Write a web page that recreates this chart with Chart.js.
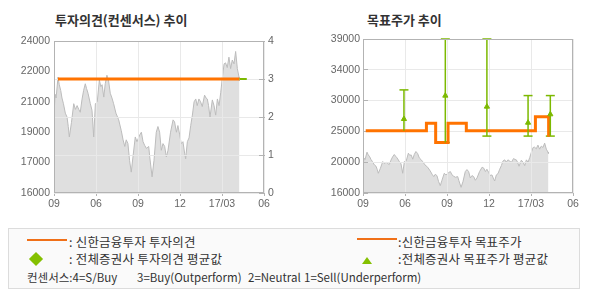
<!DOCTYPE html>
<html>
<head>
<meta charset="utf-8">
<script src="https://cdn.jsdelivr.net/npm/chart.js@4.4.0/dist/chart.umd.min.js"></script>
<style>
  body { margin: 0; width: 590px; height: 300px; background: #fff; position: relative; overflow: hidden; }
  .box { position: absolute; top: 0; width: 295px; height: 220px; }
  .title { position: absolute; top: 11px; font: bold 13px "Noto Sans CJK KR", sans-serif; color: #333; line-height: 18px; white-space: nowrap; }
  .legend { position: absolute; left: 8px; top: 228px; width: 570px; height: 59px; border: 1px solid #dcdcdc; background: #fafafa; }
  .lg { position: absolute; font: 12.5px "Noto Sans CJK KR", sans-serif; color: #333; line-height: 16px; white-space: pre; letter-spacing: 0.2px; }
  .lg.small { font-size: 11.5px; letter-spacing: 0; }
  .ln { position: absolute; height: 2px; width: 40px; background: #f07018; }
  .dia { position: absolute; width: 10px; height: 10px; background: #84c000; transform: rotate(45deg); }
  .tri { position: absolute; width: 0; height: 0; border-left: 5px solid transparent; border-right: 5px solid transparent; border-bottom: 7px solid #84c000; }
</style>
</head>
<body>
<div class="title" style="left:55px">투자의견(컨센서스) 추이</div>
<div class="title" style="left:367px">목표주가 추이</div>
<div class="box" style="left:0"><canvas id="opinionChart"></canvas></div>
<div class="box" style="left:295px"><canvas id="targetChart"></canvas></div>

<div class="legend">
  <div class="ln" style="left:18px; top:10px"></div>
  <div class="lg" style="left:60px; top:5px">: 신한금융투자 투자의견</div>
  <div class="ln" style="left:348px; top:9px"></div>
  <div class="lg" style="left:389px; top:5px">:신한금융투자 목표주가</div>
  <div class="dia" style="left:22px; top:25px"></div>
  <div class="lg" style="left:60px; top:22px">: 전체증권사 투자의견 평균값</div>
  <div class="tri" style="left:353px; top:28px"></div>
  <div class="lg" style="left:389px; top:22px">:전체증권사 목표주가 평균값</div>
  <div class="lg small" style="left:18px; top:40px">컨센서스:4=S/Buy</div>
  <div class="lg small" style="left:128px; top:40px">3=Buy(Outperform)</div>
  <div class="lg small" style="left:239px; top:40px">2=Neutral</div>
  <div class="lg small" style="left:295px; top:40px">1=Sell(Underperform)</div>
</div>

<script>
// x axis (0..100 across the plot), labels under the grid lines
const xTicks = [0, 20, 40, 60, 80, 100];
const xLabels = ['09', '06', '09', '12', '17/03', '06'];

// share price (same series in both charts)
const priceX = [0, 0.5, 1.0, 1.9, 2.5, 3.2, 3.8, 4.5, 5.4, 6.2, 6.8, 7.3, 8.3, 9.4, 10.2, 11.0, 11.8, 12.5, 13.3, 14.1,
  14.9, 15.5, 16.2, 17.3, 18.1, 18.9, 19.7, 20.6, 21.6, 22.3, 22.9, 23.7, 24.4, 25.2, 26.0, 26.8, 27.6, 28.4, 29.5, 30.8,
  32.0, 32.9, 33.7, 34.4, 35.2, 36.0, 36.8, 37.6, 38.7, 39.5, 40.8, 41.6, 42.4, 43.2, 44.0, 45.1, 45.6, 46.7, 47.6, 48.7,
  49.5, 50.3, 51.1, 51.9, 52.7, 53.5, 54.3, 55.5, 56.7, 57.4, 58.3, 59.0, 59.8, 60.6, 61.4, 62.2, 62.7, 63.5, 64.3, 65.1,
  65.9, 66.7, 67.5, 68.2, 69.0, 69.8, 70.6, 71.7, 72.4, 73.0, 73.6, 74.3, 75.4, 76.2, 77.0, 77.8, 78.6, 79.4, 80.2, 81.0,
  81.7, 82.5, 83.3, 84.1, 84.9, 85.7, 86.5, 87.3, 88.1, 88.3];
const priceY = [20100, 21200, 21000, 22100, 21700, 21400, 21000, 20700, 20200, 20000, 19500, 18950, 19700, 20700, 20400, 20600, 20400, 20250, 20900, 21400,
  21750, 21500, 21250, 20700, 20350, 18950, 20700, 20800, 21950, 21600, 21700, 21050, 21750, 22200, 21900, 21250, 21000, 20700, 20200, 19850,
  19300, 18800, 18450, 18800, 18600, 17700, 17100, 17900, 18950, 18700, 19050, 19200, 18700, 18500, 18350, 18450, 17900, 16850, 17700, 19200,
  19500, 19200, 18250, 18600, 18450, 17900, 18250, 19200, 19850, 19750, 19200, 19550, 19100, 18600, 18700, 18100, 17800, 18700, 18900, 19550,
  20100, 20800, 20950, 20600, 20950, 20800, 20550, 21150, 21000, 20950, 20600, 20000, 20900, 20600, 20100, 20950, 20600, 21300, 22100, 22800,
  22850, 22600, 23150, 22550, 23000, 22800, 23450, 22550, 22100, 21900];

// investment opinion (right axis 0..4)
const opinionX = [1.9, 88.3];
const opinionY = [3, 3];
const avgOpinionX = [88.3, 91.8];
const avgOpinionY = [3, 3];
const opinionTicks = [0, 1, 2, 3, 4];

// left chart price axis
const leftPriceTicks = [16000, 17600, 19200, 20800, 22400, 24000];
const leftPriceLabels = ['16000', '17000', '19000', '21000', '22000', '24000'];

// target price (stepped)
const targetX = [1.3, 30.2, 34.6, 40.5, 49.2, 82.1, 88.4];
const targetY = [25300, 26400, 23550, 26400, 25300, 27400, 24400];

// all brokers' target price range and average
const rangeX = [19.5, 39.2, 59.0, 78.6, 89.2];
const rangeHigh = [31400, 39000, 39000, 30550, 30550];
const rangeLow = [25300, 23550, 24500, 24500, 24500];
const rangeAvg = [27050, 30540, 28900, 26500, 27750];

// right chart axis
const rightTicks = [16000, 20600, 25200, 29800, 34400, 39000];
const rightLabels = ['16000', '20000', '25000', '30000', '34000', '39000'];

const ORANGE = '#ff7300';
const GREEN = '#7cb900';
const GRID = '#e9e9e9';
const AXIS = '#b3b3b3';
const tickFont = { family: "'Liberation Sans', Arial, sans-serif", size: 10.5 };

const pts = (xs, ys) => xs.map((x, i) => ({ x: x, y: ys[i] }));

// grid lines are drawn again over the price area, then a frame around the plot
const framePlugin = {
    id: 'frame',
    afterDatasetDraw(chart, args) {
        if (args.index !== 0) return;
        Object.values(chart.scales).forEach(s => s.drawGrid(chart.chartArea));
    },
    afterDraw(chart) {
        const a = chart.chartArea;
        const ctx = chart.ctx;
        ctx.save();
        ctx.strokeStyle = AXIS;
        ctx.lineWidth = 1;
        ctx.strokeRect(Math.round(a.left) + 0.5, Math.round(a.top) + 0.5, Math.round(a.right - a.left) - 1, Math.round(a.bottom - a.top) - 1);
        ctx.restore();
    }
};

function xScale() {
    return {
        type: 'linear', min: 0, max: 100,
        afterBuildTicks: s => { s.ticks = xTicks.map(v => ({ value: v })); },
        afterFit: s => { s.height = 27; },
        ticks: { callback: (v, i) => xLabels[i], font: tickFont, color: '#666', padding: 2, maxRotation: 0, autoSkip: false },
        grid: { color: GRID, tickColor: AXIS, tickLength: 3 },
        border: { color: AXIS }
    };
}

function priceDataset(yAxisID) {
    return {
        type: 'line',
        data: pts(priceX, priceY),
        yAxisID: yAxisID,
        borderColor: '#bcbcbc',
        borderWidth: 1,
        backgroundColor: '#dfdfdf',
        fill: 'start',
        pointRadius: 0,
        tension: 0,
        order: 5
    };
}

new Chart(document.getElementById('opinionChart'), {
    type: 'line',
    data: {
        datasets: [
            priceDataset('y'),
            {
                data: pts(opinionX, opinionY),
                yAxisID: 'y1',
                borderColor: ORANGE,
                borderWidth: 3,
                pointRadius: 0,
                order: 1
            },
            {
                data: pts(avgOpinionX, avgOpinionY),
                yAxisID: 'y1',
                borderColor: GREEN,
                borderWidth: 2,
                pointRadius: 0,
                order: 0
            }
        ]
    },
    options: {
        responsive: true,
        maintainAspectRatio: false,
        animation: false,
        layout: { padding: { top: 41, left: 0, right: 0, bottom: 0 } },
        plugins: { legend: { display: false }, tooltip: { enabled: false } },
        scales: {
            x: xScale(),
            y: {
                position: 'left', min: 16000, max: 24000,
                afterBuildTicks: s => { s.ticks = leftPriceTicks.map(v => ({ value: v })); },
                afterFit: s => { s.width = 54; },
                ticks: { callback: (v, i) => leftPriceLabels[i], font: tickFont, color: '#666', padding: 4 },
                grid: { drawOnChartArea: false, drawTicks: false },
                border: { color: AXIS }
            },
            y1: {
                position: 'right', min: 0, max: 4,
                afterBuildTicks: s => { s.ticks = opinionTicks.map(v => ({ value: v })); },
                afterFit: s => { s.width = 31; },
                ticks: { callback: (v, i) => String(opinionTicks[i]), font: tickFont, color: '#666', padding: 9 },
                grid: { color: GRID, tickColor: AXIS, tickLength: -5 },
                border: { color: AXIS }
            }
        }
    },
    plugins: [framePlugin]
});

// vertical range lines, broken between brokers with null points
const rangeLine = [];
rangeX.forEach((x, i) => {
    rangeLine.push({ x: x, y: rangeLow[i] }, { x: x, y: rangeHigh[i] }, { x: x, y: null });
});

new Chart(document.getElementById('targetChart'), {
    type: 'line',
    data: {
        datasets: [
            priceDataset('y'),
            {
                data: pts(targetX, targetY),
                stepped: 'before',
                borderColor: ORANGE,
                borderWidth: 3,
                borderJoinStyle: 'miter',
                pointRadius: 0,
                order: 3
            },
            {
                data: rangeLine,
                spanGaps: false,
                borderColor: GREEN,
                borderWidth: 1.5,
                pointRadius: 0,
                clip: 4,
                order: 2
            },
            {
                type: 'scatter',
                data: pts(rangeX, rangeHigh).concat(pts(rangeX, rangeLow)),
                pointStyle: 'line',
                pointRadius: 4.5,
                borderColor: GREEN,
                borderWidth: 1.5,
                clip: 4,
                order: 4
            },
            {
                type: 'scatter',
                data: pts(rangeX, rangeAvg),
                pointStyle: 'triangle',
                pointRadius: 3,
                backgroundColor: GREEN,
                borderColor: GREEN,
                borderWidth: 1,
                order: 1
            }
        ]
    },
    options: {
        responsive: true,
        maintainAspectRatio: false,
        animation: false,
        layout: { padding: { top: 39, left: 0, right: 17, bottom: 0 } },
        plugins: { legend: { display: false }, tooltip: { enabled: false } },
        scales: {
            x: xScale(),
            y: {
                position: 'left', min: 16000, max: 39000,
                afterBuildTicks: s => { s.ticks = rightTicks.map(v => ({ value: v })); },
                afterFit: s => { s.width = 68; },
                ticks: { callback: (v, i) => rightLabels[i], font: tickFont, color: '#666', padding: 8 },
                grid: { color: GRID, tickColor: AXIS, tickLength: -5 },
                border: { color: AXIS }
            }
        }
    },
    plugins: [framePlugin]
});
</script>
</body>
</html>
